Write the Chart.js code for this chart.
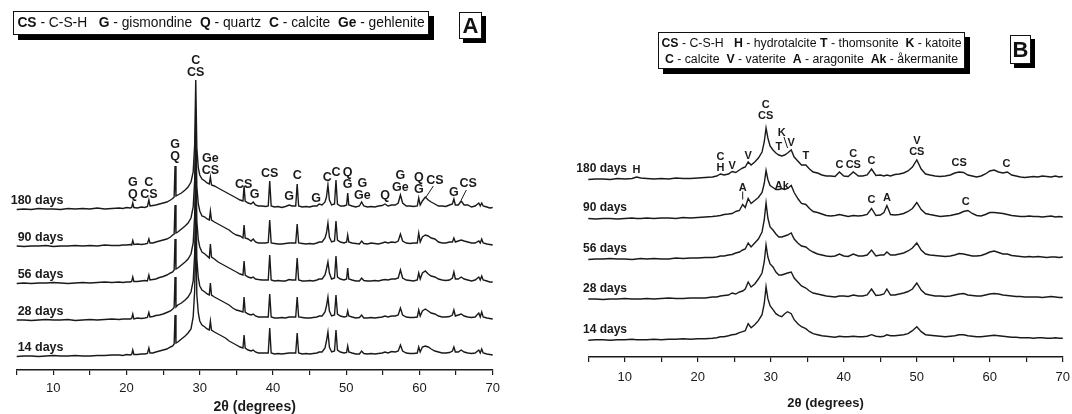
<!DOCTYPE html>
<html>
<head>
<meta charset="utf-8">
<script src="https://cdn.jsdelivr.net/npm/chart.js@4.4.1/dist/chart.umd.min.js"></script>
<style>
  body { margin: 0; background: #fff; font-family: "Liberation Sans", Arial, sans-serif; color: #111; }
  #wrap { position: relative; width: 1072px; height: 414px; overflow: hidden; }
  canvas { position: absolute; top: 0; }
  .key { position: absolute; background: #fff; border: 1px solid #111; box-shadow: 5px 5px 0 #000; white-space: pre; text-align: center; box-sizing: border-box; }
  .panel { position: absolute; background: #fff; border: 1px solid #111; box-shadow: 4px 4px 0 #000; font-weight: bold; text-align: center; box-sizing: border-box; }
</style>
</head>
<body>
<div id="wrap">
  <canvas id="xrdA" width="536" height="414" style="left:0"></canvas>
  <canvas id="xrdB" width="536" height="414" style="left:536px"></canvas>

  <div class="key" style="left:13px;top:11px;width:416px;height:24px;font-size:13.8px;line-height:22px"><b>CS</b> - C-S-H   <b>G</b> - gismondine  <b>Q</b> - quartz  <b>C</b> - calcite  <b>Ge</b> - gehlenite</div>
  <div class="panel" style="left:459px;top:12px;width:23px;height:27px;font-size:22px;line-height:25px">A</div>

  <div class="key" style="left:658px;top:32px;width:307px;height:37px;font-size:12.3px;line-height:16.5px;padding-top:1.5px"><b>CS</b> - C-S-H   <b>H</b> - hydrotalcite <b>T</b> - thomsonite  <b>K</b> - katoite
<b>C</b> - calcite  <b>V</b> - vaterite  <b>A</b> - aragonite  <b>Ak</b> - åkermanite</div>
  <div class="panel" style="left:1010px;top:35px;width:21px;height:29px;font-size:22px;line-height:27px">B</div>
</div>

<script>
const FONT = '"Liberation Sans", Arial, sans-serif';
const INK = '#1a1a1a';

// ---- A: curing ages and 2θ positions of the recorded points
const agesA = ['180 days', '90 days', '56 days', '28 days', '14 days'];
const thetaA = [
  5, 6, 7, 8, 9, 10, 11, 12, 13, 14,
  15, 16, 17, 18, 19, 19.5, 20, 20.5, 20.7, 20.85,
  21, 21.5, 22, 22.5, 22.85, 23.05, 23.2, 23.6, 24, 24.5,
  25, 25.5, 26, 26.3, 26.5, 26.62, 26.75, 27, 27.5, 28,
  28.4, 28.8, 29.1, 29.3, 29.45, 29.6, 29.8, 30, 30.3, 30.7,
  31, 31.3, 31.45, 31.6, 32, 32.5, 33, 33.5, 34, 34.5,
  35, 35.5, 35.9, 36.05, 36.2, 36.6, 37, 37.3, 37.6, 38,
  38.5, 39, 39.35, 39.55, 39.75, 40.2, 40.7, 41.2, 41.7, 42.2,
  42.6, 43.1, 43.3, 43.5, 44, 44.5, 45, 45.5, 46, 46.3,
  46.7, 47.1, 47.3, 47.5, 47.7, 48, 48.4, 48.6, 48.8, 49.2,
  49.7, 50.05, 50.2, 50.35, 50.8, 51.3, 51.8, 52.1, 52.4, 52.9,
  53.4, 53.9, 54.4, 54.9, 55.3, 55.7, 56.2, 56.7, 57.1, 57.4,
  57.7, 58.2, 58.7, 59.2, 59.7, 59.9, 60.1, 60.4, 60.8, 61.2,
  61.6, 62.1, 62.6, 63.1, 63.6, 64.1, 64.5, 64.7, 64.9, 65.3,
  65.7, 66.1, 66.6, 67.1, 67.6, 68.1, 68.3, 68.5, 68.7, 69.2,
  69.6, 70
];

// intensities (a.u.) above each pattern's own baseline
const a180 = [
  0.5, 1, 0.5, 1.5, 1, 1, 0.5, 1.5, 1, 1.5,
  1, 2, 1, 1.5, 2, 1.5, 2.5, 2, 2.5, 7,
  2.5, 2, 3, 2.5, 3.5, 10, 4, 4.5, 5, 6,
  7, 8, 10, 11.5, 13, 44, 14, 15, 17, 20,
  23, 28, 38, 65, 130, 62, 42, 35, 31, 29,
  27, 26, 33, 25, 24, 22, 20, 18, 16, 14,
  12, 10, 9, 24, 9, 7, 6, 8, 5, 4,
  4, 3.5, 4, 29, 4, 3, 3.5, 2.5, 3.5, 5,
  4, 4, 26, 4, 3, 3.5, 3, 4, 4, 6,
  5, 8, 13, 25, 10, 5, 6, 30, 6, 4,
  4, 5, 17, 5, 4, 3, 4, 8, 4, 3,
  3.5, 3, 4, 4.5, 6, 4, 5, 5, 7, 15,
  7, 4, 4, 3.5, 4, 12, 5, 9, 13, 10,
  8, 6, 4, 4, 3.5, 5, 6, 11, 5, 5,
  9, 5, 5, 3, 4, 7, 4, 7, 4, 3,
  2, 2.5
];
const a90 = [
  1, 0.5, 1, 1, 1.5, 0.5, 1, 1, 1.5, 1,
  1.5, 1, 2, 1.5, 1.5, 2, 2, 2.5, 2, 6.5,
  2.5, 3, 2.5, 3, 3.5, 8, 4, 4, 5, 6,
  7, 8, 10, 12, 13, 42, 14, 15, 18, 21,
  24, 29, 40, 66, 128, 60, 43, 36, 31, 30,
  28, 27, 36, 27, 25, 23, 21, 19, 17, 14,
  12, 11, 9, 22, 9, 8, 6, 8, 5, 4,
  4, 4, 4.5, 27, 4, 3.5, 3, 3, 3.5, 4,
  4, 4, 23, 4, 3.5, 3, 3.5, 3, 4, 5,
  5, 9, 14, 24, 10, 5, 6, 26, 7, 5,
  4, 5, 12, 5, 4, 3.5, 3, 6, 3.5, 3,
  4, 3.5, 3, 4, 5, 4, 5, 4.5, 6, 13,
  6, 4, 3.5, 4, 4, 14, 5, 10, 12, 11,
  9, 8, 5, 4, 4, 5, 5, 9, 5, 6,
  7, 6, 5, 4, 4, 6, 4, 8, 4, 3,
  2.5, 2
];
const a56 = [
  0.5, 1, 0.5, 1, 1, 1.5, 1, 0.5, 1, 1.5,
  1, 1.5, 2, 1.5, 2, 1.5, 2, 2, 2.5, 7,
  2.5, 2.5, 3, 3.5, 3, 9, 4, 4.5, 5, 6.5,
  7.5, 9, 11, 12, 14, 45, 15, 16, 19, 22,
  25, 30, 41, 68, 130, 63, 44, 37, 32, 30,
  28, 26, 40, 27, 25, 22, 20, 18, 16, 14,
  12, 10, 9, 23, 9, 7, 6, 7, 5, 4.5,
  4, 4, 4, 29, 4, 3, 3.5, 3, 3, 4.5,
  4, 4, 26, 4, 3, 3, 3.5, 3, 4, 5,
  5, 9, 15, 22, 11, 5, 6, 28, 7, 5,
  4, 5, 16, 5, 4, 3, 3, 6, 3.5, 3,
  3, 3.5, 3, 4, 4.5, 4, 5, 5, 6, 14,
  6, 4, 3.5, 3, 4, 11, 5, 11, 13, 10,
  8, 7, 5, 4, 3.5, 4, 6, 12, 5, 5,
  7, 5, 4, 3, 4, 7, 4, 8, 4, 3,
  2, 2
];
const a28 = [
  1, 1, 0.5, 1, 1.5, 1, 1, 1.5, 0.5, 1,
  1.5, 1, 1.5, 2, 1.5, 2, 2, 2, 2.5, 7,
  2, 3, 2.5, 3, 3.5, 8.5, 4, 4.5, 5.5, 6,
  7, 8.5, 10, 12, 13.5, 44, 14, 16, 18, 21,
  24, 29, 40, 67, 128, 62, 43, 35, 31, 29,
  27, 26, 38, 26, 24, 22, 20, 18, 16, 13,
  11, 10, 9, 24, 9, 7, 6, 7, 5, 4,
  4, 4, 4, 27, 4, 3, 3, 3.5, 3, 4,
  4, 4, 24, 4, 3.5, 3, 3, 3.5, 4, 5,
  5, 9, 15, 24, 10, 5, 6, 26, 7, 5,
  4, 4.5, 10, 5, 4, 3, 3.5, 6, 3, 3,
  3.5, 3, 3.5, 4, 5, 4, 5, 5, 6, 13,
  6, 4, 3.5, 3.5, 4, 11, 5, 10, 12, 10,
  8, 7, 5, 4, 4, 4.5, 6, 11, 5, 6,
  7, 5, 4, 3.5, 4, 8, 4, 9, 4, 3,
  2.5, 2
];
const a14 = [
  0.5, 1, 1, 0.5, 1, 1.5, 1, 1, 1.5, 1,
  1, 1.5, 1.5, 2, 2, 1.5, 2.5, 2, 2.5, 7,
  2.5, 2.5, 3, 3, 3.5, 9, 4, 4, 5, 6,
  7, 8, 10, 11, 13, 42, 14, 15, 18, 21,
  24, 28, 40, 66, 128, 62, 44, 36, 32, 30,
  28, 27, 36, 27, 25, 23, 21, 19, 16, 14,
  12, 10, 9, 22, 9, 7, 6, 7, 5, 4,
  4, 4, 4, 29, 4, 3, 3.5, 3, 3.5, 4,
  4, 4, 24, 4, 3, 3.5, 3, 3.5, 4, 5,
  5, 9, 16, 25, 10, 5, 6, 27, 7, 5,
  4, 4.5, 11, 5, 4, 3, 3, 6, 3.5, 3,
  3.5, 3, 3.5, 4, 5, 4, 5.5, 5, 6, 12,
  6, 4, 3.5, 3.5, 4, 10, 5, 10, 11, 10,
  8, 6, 5, 4, 4, 4.5, 6, 10, 5, 5,
  7, 5, 4, 3.5, 4, 7, 4, 8, 4, 3,
  2.5, 2
];

// phase tags: pattern index, 2θ, height of the lowest text line, text lines
const tagsA = [
  { s: 0, x: 20.85, h: 15, t: ['G', 'Q'] },
  { s: 0, x: 23.05, h: 15, t: ['C', 'CS'] },
  { s: 0, x: 26.62, h: 53, t: ['G', 'Q'] },
  { s: 0, x: 29.45, h: 137, t: ['C', 'CS'] },
  { s: 0, x: 31.45, h: 39, t: ['Ge', 'CS'] },
  { s: 0, x: 36.0, h: 25, t: ['CS'] },
  { s: 0, x: 37.5, h: 15, t: ['G'] },
  { s: 0, x: 39.55, h: 36, t: ['CS'] },
  { s: 0, x: 42.2, h: 13, t: ['G'] },
  { s: 0, x: 43.3, h: 34, t: ['C'] },
  { s: 0, x: 45.9, h: 11, t: ['G'] },
  { s: 0, x: 47.4, h: 32, t: ['C'] },
  { s: 0, x: 48.6, h: 37, t: ['C'] },
  { s: 0, x: 50.2, h: 25, t: ['Q', 'G'] },
  { s: 0, x: 52.2, h: 14, t: ['G', 'Ge'] },
  { s: 0, x: 55.3, h: 14, t: ['Q'] },
  { s: 0, x: 57.4, h: 22, t: ['G', 'Ge'] },
  { s: 0, x: 59.9, h: 20, t: ['Q', 'G'] },
  { s: 0, x: 62.1, h: 29, t: ['CS'], lead: [61.9, 24, 60.9, 13] },
  { s: 0, x: 64.7, h: 17, t: ['G'] },
  { s: 0, x: 66.65, h: 26, t: ['CS'], lead: [66.4, 20, 65.7, 10] }
];

// ---- B
const agesB = ['180 days', '90 days', '56 days', '28 days', '14 days'];
const thetaB = [
  5, 6, 7, 8, 9, 10, 11, 11.6, 12.2, 13,
  14, 15, 16, 17, 18, 19, 20, 21, 22, 22.6,
  23.1, 23.6, 24.2, 24.7, 25.2, 25.7, 26.15, 26.5, 26.9, 27.3,
  27.8, 28.3, 28.8, 29.1, 29.35, 29.6, 29.9, 30.3, 30.7, 31.1,
  31.5, 31.9, 32.3, 32.8, 33.2, 33.7, 34.2, 34.8, 35.3, 35.8,
  36.4, 37, 37.6, 38.2, 38.8, 39.4, 40, 40.6, 41.3, 42,
  42.6, 43.2, 43.8, 44.4, 45, 45.5, 45.9, 46.4, 47, 47.6,
  48.2, 48.8, 49.4, 50, 50.6, 51.2, 51.8, 52.5, 53.2, 53.9,
  54.6, 55.2, 55.8, 56.4, 57, 57.6, 58.2, 58.8, 59.4, 60,
  60.6, 61.2, 61.8, 62.4, 63, 63.6, 64.2, 64.8, 65.4, 66,
  66.6, 67.2, 67.8, 68.4, 69, 69.5, 70
];
const b180 = [
  0.5, 1, 1, 0.5, 1.5, 1, 1.5, 3, 2, 1.5,
  1, 1.5, 1, 2, 1.5, 1.5, 2, 2.5, 3, 4,
  6, 5, 6, 8.5, 7.5, 10, 12, 13, 18, 15,
  18, 22, 28, 38, 52, 42, 34, 30, 27, 25,
  24, 25, 27, 30, 23, 19, 15, 15, 11, 8,
  7, 5, 4, 4, 3.5, 8, 4, 3.5, 8, 4,
  4, 5, 11, 4.5, 5, 4, 5, 4, 5.5, 6,
  7, 9, 13, 20, 11, 6, 5, 4, 3.5, 4,
  5, 7, 8, 7.5, 5, 4, 3, 4, 6, 9,
  10, 8, 7, 8, 5, 4, 3, 2.5, 3, 3.5,
  3, 4, 3.5, 3, 4, 3, 3.5
];
const b90 = [
  1, 0.5, 1, 1, 0.5, 1, 1.5, 1, 1, 1.5,
  1, 1.5, 1.5, 1, 2, 1.5, 2, 2.5, 3, 3.5,
  4, 5, 5.5, 6, 8, 9, 15, 12, 21, 16,
  19, 22, 27, 36, 49, 40, 34, 32, 30, 30,
  31, 30, 31, 34, 27, 21, 16, 15, 11, 8,
  7, 5.5, 4, 3.5, 4, 5, 4, 3, 4, 3.5,
  4, 5, 11, 4, 4.5, 7, 14, 5, 4.5, 5,
  6, 8, 11, 17, 10, 6, 5, 4, 3, 3.5,
  4, 5, 6, 8, 9, 6, 4, 3.5, 5, 7,
  7, 6.5, 6, 5, 4, 3.5, 3, 3, 3.5, 3,
  3, 2.5, 3, 3.5, 2.5, 3, 2.5
];
const b56 = [
  0.5, 1, 1, 1.5, 1, 1, 0.5, 1, 1.5, 1,
  1.5, 1, 1, 2, 1.5, 2, 2, 2.5, 2.5, 3,
  4, 4, 5, 5.5, 7, 8, 10, 11, 17, 13,
  17, 21, 28, 40, 57, 42, 33, 30, 26, 23,
  23, 24, 25, 27, 21, 17, 14, 13, 10, 8,
  6, 5, 4, 3.5, 4, 6, 4, 3.5, 6, 4,
  4, 5, 10, 4, 5, 5, 8, 5, 5, 6,
  7, 9, 12, 17, 10, 6, 5, 4.5, 4, 3.5,
  4, 5, 6.5, 6, 5, 4, 4, 4.5, 6, 8,
  9, 7.5, 6, 6, 4.5, 4, 3.5, 3, 3.5, 3,
  3.5, 3, 2.5, 3, 3, 2.5, 3
];
const b28 = [
  1, 1, 0.5, 1, 1, 1.5, 1, 1, 1, 1.5,
  1, 1.5, 2, 1.5, 1.5, 2, 2, 2, 3, 3,
  4, 4.5, 5, 7, 6, 8, 9, 11, 18, 13,
  16, 21, 27, 38, 55, 43, 36, 33, 28, 25,
  25, 26, 27, 28, 22, 18, 14, 12, 9, 7,
  6, 5, 4, 3.5, 3, 4, 4, 3.5, 5, 4,
  4, 5, 11, 4.5, 5, 6, 11, 5, 5, 6,
  7, 8.5, 11, 17, 10, 6, 5, 4, 4, 3.5,
  4, 5, 6, 6.5, 5, 4.5, 4, 4, 5, 6,
  6.5, 6, 5, 4.5, 4, 3.5, 3.5, 3, 3, 3,
  3, 2.5, 3, 3.5, 3, 2.5, 2.5
];
const b14 = [
  0.5, 1, 1, 0.5, 1, 1, 1.5, 1, 1, 1,
  1.5, 1, 1.5, 1.5, 2, 1.5, 2, 2, 2.5, 3,
  4, 4, 5, 6, 6.5, 8, 9, 10, 17, 13,
  16, 20, 26, 37, 54, 42, 35, 31, 27, 25,
  24, 27, 29, 27, 21, 17, 14, 12, 9, 7,
  6, 5, 4.5, 4, 3.5, 4.5, 4, 4, 4.5, 4,
  4, 4.5, 6, 4.5, 4, 4.5, 6, 5, 5, 5.5,
  6, 7, 10, 14, 9, 6, 5.5, 5, 4.5, 4,
  4.5, 5, 6, 6, 5, 4.5, 4, 4, 4.5, 5,
  5.5, 5, 4.5, 4, 3.5, 3.5, 3, 3, 3, 2.5,
  3, 3, 2.5, 2.5, 3, 2.5, 2.5
];

const tagsB = [
  { s: 0, x: 11.6, h: 10, t: ['H'] },
  { s: 0, x: 23.1, h: 12, t: ['C', 'H'] },
  { s: 0, x: 24.7, h: 14, t: ['V'] },
  { s: 0, x: 26.9, h: 24, t: ['V'] },
  { s: 0, x: 29.3, h: 64, t: ['C', 'CS'] },
  { s: 0, x: 31.1, h: 33, t: ['T'] },
  { s: 0, x: 31.5, h: 47, t: ['K'], lead: [31.8, 43, 32.3, 32] },
  { s: 0, x: 32.8, h: 37, t: ['V'] },
  { s: 0, x: 34.8, h: 24, t: ['T'] },
  { s: 0, x: 39.4, h: 15, t: ['C'] },
  { s: 0, x: 41.3, h: 15, t: ['C', 'CS'] },
  { s: 0, x: 43.8, h: 19, t: ['C'] },
  { s: 0, x: 50.0, h: 28, t: ['V', 'CS'] },
  { s: 0, x: 55.8, h: 17, t: ['CS'] },
  { s: 0, x: 62.3, h: 16, t: ['C'] },
  { s: 1, x: 26.15, h: 32, t: ['A'], lead: [26.15, 28, 26.15, 20] },
  { s: 1, x: 31.5, h: 34, t: ['Ak'] },
  { s: 1, x: 43.8, h: 20, t: ['C'] },
  { s: 1, x: 45.9, h: 22, t: ['A'] },
  { s: 1, x: 56.7, h: 18, t: ['C'] }
];

// draws sample names and phase tags on top of the patterns
const makeLabels = (p) => ({
  id: 'labels',
  afterDatasetsDraw(chart) {
    const { ctx, scales: { x, y } } = chart;
    ctx.save();
    ctx.fillStyle = INK;
    ctx.strokeStyle = INK;
    ctx.textBaseline = 'middle';

    ctx.font = `bold ${p.nameSize}px ${FONT}`;
    ctx.textAlign = 'right';
    p.names.forEach((name, i) => {
      ctx.fillText(name, p.nameRight, y.getPixelForValue(p.offsets[i]) - p.nameLift);
    });

    ctx.font = `bold ${p.tagSize}px ${FONT}`;
    ctx.textAlign = 'center';
    p.tags.forEach(tag => {
      const off = p.offsets[tag.s];
      const px = x.getPixelForValue(tag.x);
      const base = y.getPixelForValue(off + tag.h);
      tag.t.forEach((line, j) => {
        ctx.fillText(line, px, base - (tag.t.length - 1 - j) * p.tagGap);
      });
      if (tag.lead) {
        ctx.lineWidth = 1;
        ctx.beginPath();
        ctx.moveTo(x.getPixelForValue(tag.lead[0]), y.getPixelForValue(off + tag.lead[1]));
        ctx.lineTo(x.getPixelForValue(tag.lead[2]), y.getPixelForValue(off + tag.lead[3]));
        ctx.stroke();
      }
    });
    ctx.restore();
  }
});

const createPanel = (canvasId, p) => {
  const datasets = p.series.map((vals, i) => ({
    label: p.names[i],
    data: p.theta.map((t, k) => ({ x: t, y: p.offsets[i] + vals[k] })),
    borderColor: INK,
    borderWidth: 1.4,
    pointRadius: 0,
    tension: 0,
    clip: false
  }));

  return new Chart(document.getElementById(canvasId), {
    type: 'line',
    data: { datasets },
    options: {
      responsive: false,
      animation: false,
      layout: { padding: p.padding },
      plugins: { legend: { display: false }, tooltip: { enabled: false } },
      scales: {
        x: {
          type: 'linear',
          min: 5,
          max: 70,
          afterFit: (scale) => { scale.height = p.axisHeight; },
          ticks: {
            stepSize: 5,
            autoSkip: false,
            maxRotation: 0,
            padding: 1.5,
            color: INK,
            // line height pushes the numbers down below the tick marks
            font: { family: FONT, size: 13, lineHeight: p.tickLine },
            callback: (v) => (v % 10 === 0 ? v : '')
          },
          grid: { drawOnChartArea: false, drawTicks: true, tickLength: 5, color: INK, lineWidth: 1.2 },
          border: { display: true, color: INK, width: 1.5 },
          title: {
            display: true,
            text: '2θ (degrees)',
            color: INK,
            font: { family: FONT, size: p.titleSize, weight: 'bold', lineHeight: 1 },
            padding: { top: 0, bottom: p.titlePad }
          }
        },
        y: { display: false, min: 0, max: p.yMax }
      }
    },
    plugins: [makeLabels(p)]
  });
};

createPanel('xrdA', {
  theta: thetaA,
  series: [a180, a90, a56, a28, a14],
  names: agesA,
  offsets: [160, 123, 86, 49, 13],
  tags: tagsA,
  padding: { left: 16.7, right: 43.3, top: 43, bottom: 0 },
  yMax: 327,
  axisHeight: 44,
  tickLine: 1.8,
  titleSize: 14,
  titlePad: 0,
  nameSize: 12.5,
  nameRight: 63.5,
  nameLift: 9,
  tagSize: 12.5,
  tagGap: 12
});

createPanel('xrdB', {
  theta: thetaB,
  series: [b180, b90, b56, b28, b14],
  names: agesB,
  offsets: [177, 137.5, 97, 57, 16.3],
  tags: tagsB,
  padding: { left: 52.3, right: 9.2, top: 80, bottom: 0 },
  yMax: 277,
  axisHeight: 57,
  tickLine: 2.1,
  titleSize: 13,
  titlePad: 4,
  nameSize: 12,
  nameRight: 91,
  nameLift: 11.5,
  tagSize: 11,
  tagGap: 11
});
</script>
</body>
</html>
